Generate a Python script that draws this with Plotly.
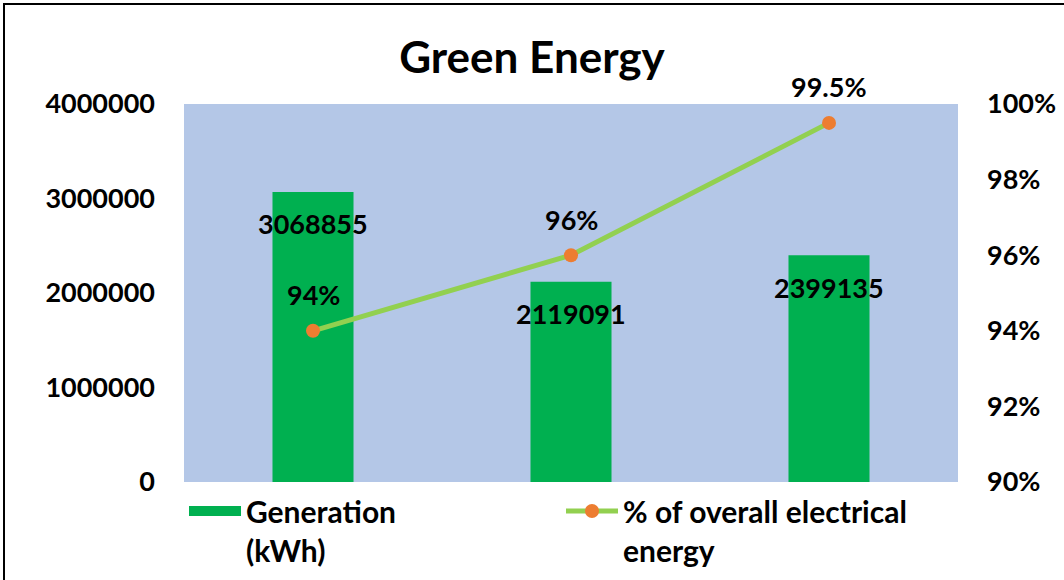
import plotly.graph_objects as go

categories = ["Period 1", "Period 2", "Period 3"]
generation_kwh = [3068855, 2119091, 2399135]
pct_overall = [0.94, 0.96, 0.995]
pct_labels = ["94%", "96%", "99.5%"]
left_ticks = [0, 1000000, 2000000, 3000000, 4000000]
right_ticks = [0.90, 0.92, 0.94, 0.96, 0.98, 1.00]

FONT = "Lato"
BLACK = "#000000"
BAR_GREEN = "#00B050"

fig = go.Figure()
fig.add_trace(go.Bar(
    x=categories, y=generation_kwh, name="Generation<br>(kWh)",
    marker=dict(color=BAR_GREEN, line=dict(width=0)), width=0.314,
    yaxis="y", showlegend=False, legendgroup="gen",
))
# legend entry for the bars, drawn as a wide filled swatch
fig.add_trace(go.Scatter(
    x=[None], y=[None], name="Generation<br>(kWh)", mode="lines",
    line=dict(color=BAR_GREEN, width=15), legendgroup="gen", yaxis="y",
))
fig.add_trace(go.Scatter(
    x=categories, y=pct_overall, name="% of overall electrical<br>energy",
    mode="lines+markers", yaxis="y2",
    line=dict(color="#92D050", width=5),
    marker=dict(color="#ED7D31", size=14),
))

annotations = []
for c, v in zip(categories, generation_kwh):
    annotations.append(dict(x=c, y=v, xref="x", yref="y", text=f"<b>{v}</b>",
                            showarrow=False, yshift=-32,
                            font=dict(family=FONT, size=27, color=BLACK)))
for c, v, t in zip(categories, pct_overall, pct_labels):
    annotations.append(dict(x=c, y=v, xref="x", yref="y2", text=f"<b>{t}</b>",
                            showarrow=False, yshift=36,
                            font=dict(family=FONT, size=27, color=BLACK)))

fig.update_layout(
    width=1064, height=580,
    margin=dict(l=184, r=106, t=104, b=98, autoexpand=False),
    paper_bgcolor="white", plot_bgcolor="#B4C7E7",
    title=dict(text="<b>Green Energy</b>", x=0.5, xanchor="center",
               y=1 - 58 / 580, yanchor="middle", yref="container",
               font=dict(family=FONT, size=44, color=BLACK)),
    font=dict(family=FONT, color=BLACK),
    xaxis=dict(showticklabels=False, showgrid=False, zeroline=False,
               showline=False, ticks=""),
    yaxis=dict(range=[0, 4000000], tickvals=left_ticks,
               ticktext=[f"<b>{v}</b>" for v in left_ticks],
               showgrid=False, zeroline=False, showline=False,
               tickfont=dict(family=FONT, size=27, color=BLACK),
               ticklabelstandoff=28),
    yaxis2=dict(range=[0.90, 1.00], tickvals=right_ticks,
                ticktext=[f"<b>{round(v*100)}%</b>" for v in right_ticks],
                overlaying="y", side="right",
                showgrid=False, zeroline=False, showline=False,
                tickfont=dict(family=FONT, size=27, color=BLACK),
                ticklabelstandoff=28),
    legend=dict(orientation="h", x=0, xanchor="left", y=-0.008, yanchor="top",
                entrywidth=310, entrywidthmode="pixels", valign="top",
                font=dict(family=FONT, size=30, color=BLACK),
                bgcolor="rgba(0,0,0,0)", itemwidth=52, tracegroupgap=0),
    annotations=annotations,
    shapes=[dict(type="rect", xref="paper", yref="paper",
                 x0=(4 - 184) / 774, x1=(1100 - 184) / 774,
                 y0=(482 - 620) / 378, y1=(482 - 4) / 378,
                 line=dict(color=BLACK, width=2), fillcolor="rgba(0,0,0,0)",
                 layer="above")],
    showlegend=True,
)
fig.update_layout(legend_font_weight="bold")

fig.write_html("out.html")
